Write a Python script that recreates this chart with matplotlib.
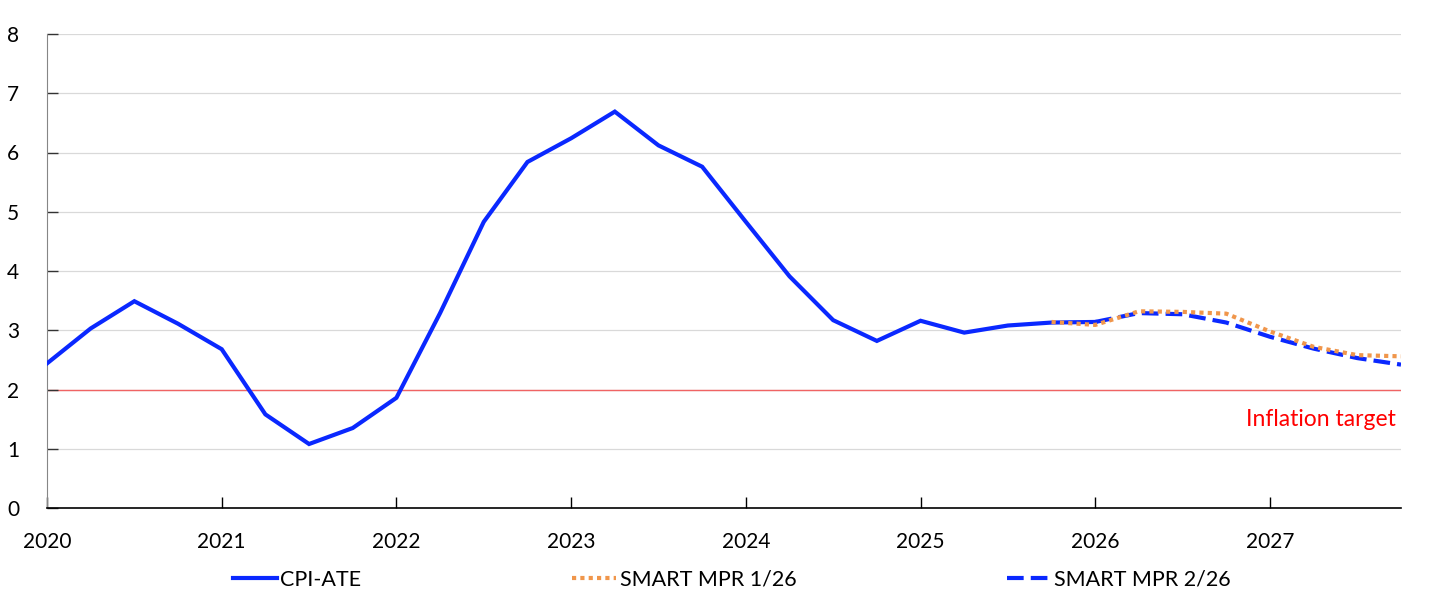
import numpy as np
import matplotlib
matplotlib.use('Agg')
import matplotlib.pyplot as plt

# data (quarterly, year fractions)
cpi_x = [2020.0, 2020.25, 2020.5, 2020.75, 2021.0, 2021.25, 2021.5, 2021.75,
         2022.0, 2022.25, 2022.5, 2022.75, 2023.0, 2023.25, 2023.5, 2023.75,
         2024.0, 2024.25, 2024.5, 2024.75, 2025.0, 2025.25, 2025.5, 2025.75,
         2026.0]
cpi_ate = [2.44, 3.03, 3.49, 3.11, 2.68, 1.58, 1.08, 1.35,
           1.86, 3.29, 4.83, 5.84, 6.24, 6.69, 6.12, 5.76,
           4.83, 3.91, 3.17, 2.82, 3.16, 2.96, 3.08, 3.13,
           3.14]

mpr1_x = [2025.75, 2026.0, 2026.25, 2026.5, 2026.75, 2027.0, 2027.25, 2027.5, 2027.75]
mpr1 = [3.14, 3.09, 3.32, 3.31, 3.28, 2.98, 2.72, 2.58, 2.56]

mpr2_x = [2026.0, 2026.25, 2026.5, 2026.75, 2027.0, 2027.25, 2027.5, 2027.75]
mpr2 = [3.14, 3.29, 3.27, 3.13, 2.89, 2.69, 2.53, 2.42]

target = 2.0
year_ticks = [2020, 2021, 2022, 2023, 2024, 2025, 2026, 2027]
y_ticks = [0, 1, 2, 3, 4, 5, 6, 7, 8]

plt.rcParams['font.family'] = ['Lato', 'DejaVu Sans']

blue = '#0A28FF'
orange = '#F0964B'

fig = plt.figure(figsize=(14.45, 6.13), dpi=100)
ax = fig.add_axes([47 / 1445, 105 / 613, (1401 - 47) / 1445, (508 - 34) / 613])

for y in y_ticks[1:]:
    ax.axhline(y, color='#D9D9D9', lw=0.9, zorder=0)
ax.axhline(target, color='#F06464', lw=1.0, zorder=1)

l1, = ax.plot(cpi_x, cpi_ate, color=blue, lw=3.0, solid_joinstyle='miter', zorder=3)
l3, = ax.plot(mpr2_x, mpr2, color=blue, lw=3.0, linestyle=(0, (4, 1.7)),
              dash_capstyle='butt', zorder=4)
l2, = ax.plot(mpr1_x, mpr1, color=orange, lw=3.0, linestyle=(0, (1, 1)),
              dash_capstyle='butt', zorder=5)

ax.text(2027.72, 1.5, 'Inflation target', color='#FF0000', fontsize=16.5,
        ha='right', va='center')

ax.set_xlim(2020, 2027.75)
ax.set_ylim(0, 8)
ax.set_xticks(year_ticks)
ax.set_xticklabels([str(y) for y in year_ticks])
ax.set_yticks(y_ticks)
ax.tick_params(axis='both', direction='in', labelsize=15, length=8, width=1)
ax.tick_params(axis='x', pad=17)
ax.tick_params(axis='y', pad=20, color='#333333')

for s in ['top', 'right']:
    ax.spines[s].set_visible(False)
ax.spines['left'].set_color('#868686')
ax.spines['bottom'].set_color('black')
ax.spines['bottom'].set_linewidth(1.2)

fig.legend([l1, l2, l3], ['CPI-ATE', 'SMART MPR 1/26', 'SMART MPR 2/26'],
           loc='center', bbox_to_anchor=(0.5065, 0.054), ncol=3, frameon=False,
           fontsize=15.5, handlelength=2.05, handletextpad=0.15, columnspacing=9.8)

fig.savefig('out.png', dpi=100)
